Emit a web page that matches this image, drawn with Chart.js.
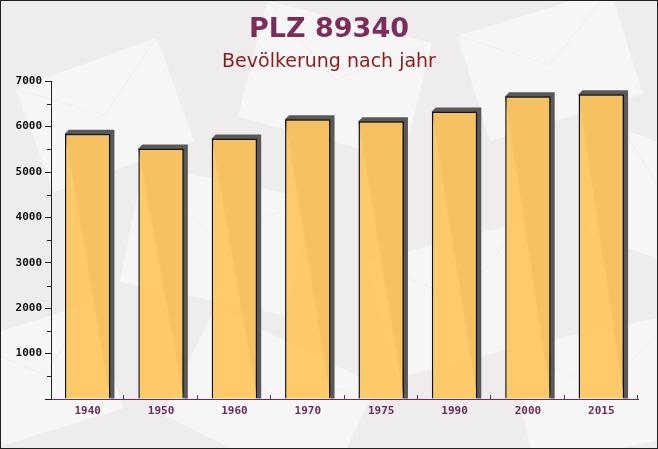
<!DOCTYPE html>
<html>
<head>
<meta charset="utf-8">
<script src="https://cdn.jsdelivr.net/npm/chart.js@4.4.0/dist/chart.umd.min.js"></script>
<style>
  html, body { margin: 0; padding: 0; background: #efedee; }
  #wrap { width: 658px; height: 449px; }
</style>
</head>
<body>
<div id="wrap"><canvas id="myBarChart" width="658" height="449"></canvas></div>
<script>
// chart data
var years = ['1940', '1950', '1960', '1970', '1975', '1990', '2000', '2015'];
var population = [5840, 5520, 5740, 6160, 6120, 6330, 6670, 6710];
var yTicks = [1000, 2000, 3000, 4000, 5000, 6000, 7000];

var titleText = 'PLZ 89340';
var subtitleText = 'Bevölkerung nach jahr';

// faint envelope shapes in the background
var envelopes = [
    [30, 60, 150, 110, -0.35], [250, 20, 170, 120, 0.25], [470, 10, 160, 110, -0.3],
    [600, 150, 140, 110, 0.35], [130, 180, 170, 120, 0.2], [380, 240, 160, 120, -0.25],
    [180, 340, 180, 120, 0.45], [520, 330, 170, 120, -0.2], [-20, 320, 130, 110, -0.3]
];

var backgroundPlugin = {
    id: 'background',
    beforeDraw: function (chart) {
        var ctx = chart.ctx;
        ctx.save();
        ctx.fillStyle = '#eeecec';
        ctx.fillRect(0, 0, chart.width, chart.height);
        envelopes.forEach(function (e) {
            ctx.save();
            ctx.translate(e[0] + e[2] / 2, e[1] + e[3] / 2);
            ctx.rotate(e[4]);
            ctx.fillStyle = 'rgba(255,255,255,0.5)';
            ctx.fillRect(-e[2] / 2, -e[3] / 2, e[2], e[3]);
            ctx.strokeStyle = 'rgba(236,232,234,0.5)';
            ctx.lineWidth = 1;
            ctx.beginPath();
            ctx.moveTo(-e[2] / 2, -e[3] / 2);
            ctx.lineTo(0, 0);
            ctx.lineTo(e[2] / 2, -e[3] / 2);
            ctx.stroke();
            ctx.restore();
        });
        ctx.restore();
    },
    afterDraw: function (chart) {
        var ctx = chart.ctx;
        ctx.save();
        ctx.strokeStyle = '#222';
        ctx.lineWidth = 1;
        ctx.strokeRect(0.5, 0.5, chart.width - 1, chart.height - 1);
        ctx.restore();
    }
};

// 3d shadow behind each bar + minor ticks
var shadowPlugin = {
    id: 'barShadow',
    beforeDatasetsDraw: function (chart) {
        var ctx = chart.ctx;
        var meta = chart.getDatasetMeta(0);
        var d = 4;
        ctx.save();
        ctx.fillStyle = '#595959';
        meta.data.forEach(function (bar) {
            var left = bar.x - bar.width / 2;
            var right = bar.x + bar.width / 2;
            ctx.beginPath();
            ctx.moveTo(left, bar.y);
            ctx.lineTo(left + d, bar.y - d);
            ctx.lineTo(right + d, bar.y - d);
            ctx.lineTo(right + d, bar.base);
            ctx.lineTo(right, bar.base);
            ctx.closePath();
            ctx.fill();
        });
        ctx.restore();
    },
    afterDraw: function (chart) {
        var ctx = chart.ctx;
        var y = chart.scales.y;
        var x = chart.scales.x;
        ctx.save();
        ctx.lineWidth = 1;
        ctx.strokeStyle = '#222';
        for (var v = 500; v < 7000; v += 1000) {
            var py = Math.round(y.getPixelForValue(v)) + 0.5;
            ctx.beginPath();
            ctx.moveTo(x.left - 4, py);
            ctx.lineTo(x.left, py);
            ctx.stroke();
        }
        ctx.strokeStyle = '#6b2d58';
        var step = (x.right - x.left) / years.length;
        for (var i = 1; i <= years.length; i++) {
            var px = Math.round(x.left + step * i) - 0.5;
            ctx.beginPath();
            ctx.moveTo(px, y.bottom);
            ctx.lineTo(px, y.bottom - 4);
            ctx.stroke();
        }
        ctx.restore();
    }
};

var ctx = document.getElementById('myBarChart').getContext('2d');
var myBarChart = new Chart(ctx, {
    type: 'bar',
    data: {
        labels: years,
        datasets: [{
            data: population,
            backgroundColor: 'rgba(254,199,98,0.95)',
            borderColor: '#111',
            borderWidth: { top: 1.5, left: 1.5, right: 1.5, bottom: 0 },
            borderSkipped: 'bottom',
            categoryPercentage: 1,
            barPercentage: 0.62
        }]
    },
    options: {
        responsive: false,
        animation: false,
        layout: { padding: 0 },
        plugins: {
            legend: { display: false },
            tooltip: { enabled: false },
            title: {
                display: true,
                text: titleText,
                color: '#7b2d5c',
                font: { family: 'DejaVu Sans', size: 27, weight: 'bold' },
                padding: { top: 14, bottom: 0 }
            },
            subtitle: {
                display: true,
                text: subtitleText,
                color: '#8b1c1c',
                font: { family: 'DejaVu Sans', size: 19 },
                padding: { top: 4, bottom: 8 }
            }
        },
        scales: {
            x: {
                grid: { drawOnChartArea: false, drawTicks: false },
                border: { color: '#6b2d58', width: 1 },
                ticks: {
                    color: '#6b2d58',
                    padding: 6,
                    font: { family: 'DejaVu Sans Mono', size: 11, weight: 'bold' }
                },
                afterFit: function (scale) { scale.height = 50; }
            },
            y: {
                min: 0,
                max: 7000,
                afterBuildTicks: function (scale) {
                    scale.ticks = [{ value: 0 }].concat(yTicks.map(function (v) { return { value: v }; }));
                },
                grid: { drawOnChartArea: false, tickLength: 6, color: '#222' },
                border: { color: '#222', width: 1 },
                ticks: {
                    color: '#111',
                    padding: 3,
                    font: { family: 'DejaVu Sans Mono', size: 11, weight: 'bold' },
                    callback: function (v) { return v === 0 ? '' : v; }
                },
                afterFit: function (scale) { scale.width = 51; }
            },
            // empty right-hand spacer so the plot ends at the same place
            spacer: {
                type: 'linear',
                position: 'right',
                display: true,
                grid: { display: false },
                border: { display: false },
                ticks: { display: false },
                afterFit: function (scale) { scale.width = 20; }
            }
        }
    },
    plugins: [backgroundPlugin, shadowPlugin]
});
</script>
</body>
</html>
